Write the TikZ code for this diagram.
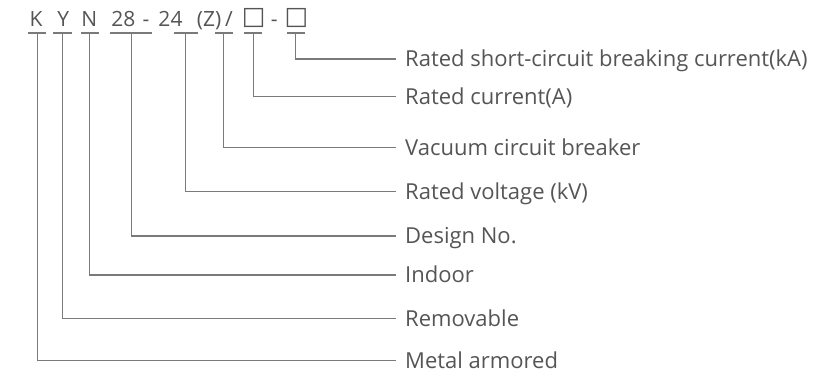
\documentclass[tikz,border=0pt]{standalone}
\usepackage{fontspec}
\setmainfont{Open Sans}
\newfontfamily\symfont{DejaVu Sans}
\definecolor{txtgray}{HTML}{555555}
\definecolor{linegray}{HTML}{7A7A7A}
\begin{document}
\begin{tikzpicture}[x=1pt,y=-1pt,
  codetxt/.style={inner sep=0pt,anchor=base,text=txtgray,font=\fontsize{21}{24}\selectfont},
  boxtxt/.style={inner sep=0pt,anchor=base,text=txtgray,font=\symfont\fontsize{25}{28}\selectfont},
  labtxt/.style={inner sep=0pt,anchor=west,text=txtgray,text height=15.8pt,text depth=0pt,font=\fontsize{22}{26}\selectfont},
  conn/.style={draw=linegray,line width=1.1pt},
  uline/.style={draw=linegray,line width=1.1pt}]
\useasboundingbox (0,0) rectangle (819,373);
% code characters
\node[codetxt] (cK) at (36,26.5) {K};
\node[codetxt] (cY) at (63.3,26.5) {Y};
\node[codetxt] (cN) at (89.2,26.5) {N};
\node[codetxt] (c28) at (123.3,26.5) {28};
\node[codetxt] (cd1) at (146,26.5) {-};
\node[codetxt] (c24) at (170.5,26.5) {24};
\node[codetxt] (cZ) at (209,26.5) {(Z)};
\node[codetxt] (cs) at (229,26.5) {/};
\node[boxtxt] (cb1) at (253.8,24.5) {□};
\node[codetxt] (cd2) at (274.2,26.5) {-};
\node[boxtxt] (cb2) at (296.5,24.5) {□};
% underline end points
\coordinate (aK) at (28,33);   \coordinate (bK) at (46,33);
\coordinate (aY) at (53,33);   \coordinate (bY) at (72,33);
\coordinate (aN) at (81,33);   \coordinate (bN) at (99,33);
\coordinate (a28) at (110,33); \coordinate (b28) at (152,33);
\coordinate (a24) at (174,33); \coordinate (b24) at (198,33);
\coordinate (aZ) at (215,33);  \coordinate (bZ) at (233,33);
\coordinate (ab1) at (244,33); \coordinate (bb1) at (262,33);
\coordinate (ab2) at (287,33); \coordinate (bb2) at (305,33);
\foreach \n in {K,Y,N,28,24,Z,b1,b2} {\draw[uline] (a\n) -- (b\n);}
% connector starts
\coordinate (uK) at (37.3,33);
\coordinate (uY) at (62.7,33);
\coordinate (uN) at (89.7,33);
\coordinate (u28) at (131.7,33);
\coordinate (u24) at (185.7,33);
\coordinate (uZ) at (223.7,33);
\coordinate (ub1) at (253.3,33);
\coordinate (ub2) at (295.3,33);
% labels
\node[labtxt] (l1) at (405,59) {Rated short-circuit breaking current(kA)};
\node[labtxt] (l2) at (405,96.7) {Rated current(A)};
\node[labtxt] (l3) at (405,147.7) {Vacuum circuit breaker};
\node[labtxt] (l4) at (405,191.7) {Rated voltage (kV)};
\node[labtxt] (l5) at (405,236) {Design No.};
\node[labtxt] (l6) at (405,275) {Indoor};
\node[labtxt] (l7) at (405,318.3) {Removable};
\node[labtxt] (l8) at (405,360.7) {Metal armored};
% connectors
\draw[conn] (ub2) |- ([xshift=-9.5pt]l1.west);
\draw[conn] (ub1) |- ([xshift=-9.5pt]l2.west);
\draw[conn] (uZ) |- ([xshift=-9.5pt]l3.west);
\draw[conn] (u24) |- ([xshift=-9.5pt]l4.west);
\draw[conn] (u28) |- ([xshift=-9.5pt]l5.west);
\draw[conn] (uN) |- ([xshift=-9.5pt]l6.west);
\draw[conn] (uY) |- ([xshift=-9.5pt]l7.west);
\draw[conn] (uK) |- ([xshift=-9.5pt]l8.west);
\end{tikzpicture}
\end{document}
